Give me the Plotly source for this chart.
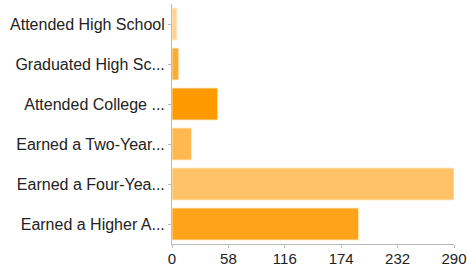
import plotly.graph_objects as go

categories = ["Attended High School", "Graduated High Sc...", "Attended College ...",
              "Earned a Two-Year...", "Earned a Four-Yea...", "Earned a Higher A..."]
values = [5, 7, 47, 20, 290, 192]
colors = ["#ffd391", "#ffab33", "#ff9900", "#ffb84d", "#ffc266", "#ffa31a"]
tick_vals = [0, 58, 116, 174, 232, 290]

fig = go.Figure(go.Bar(
    y=categories, x=values, orientation="h",
    marker=dict(color=colors, line=dict(color="rgba(255,235,200,0.9)", width=1)),
    width=0.8,
))
fig.update_layout(
    width=467, height=272,
    margin=dict(l=172, r=13, t=4, b=28),
    paper_bgcolor="white", plot_bgcolor="white",
    font=dict(family="Liberation Sans, Arial, sans-serif", size=16, color="#222"),
    showlegend=False,
)
fig.update_xaxes(range=[0, 290], tickvals=tick_vals, showgrid=False, zeroline=False,
                 showline=True, linecolor="#bbb", linewidth=1, automargin=False,
                 ticks="outside", ticklen=3, tickcolor="#bbb", ticklabelstandoff=-2,
                 tickfont=dict(size=15, color="#222"))
fig.update_yaxes(autorange="reversed", showgrid=False, zeroline=False,
                 showline=True, linecolor="#bbb", linewidth=1, automargin=False,
                 ticks="outside", ticklen=3, tickcolor="#bbb",
                 tickfont=dict(size=16, color="#222"))
fig.write_html("out.html", config={"displayModeBar": False},
               post_script="document.body.style.margin='0';document.body.style.overflow='hidden';")
